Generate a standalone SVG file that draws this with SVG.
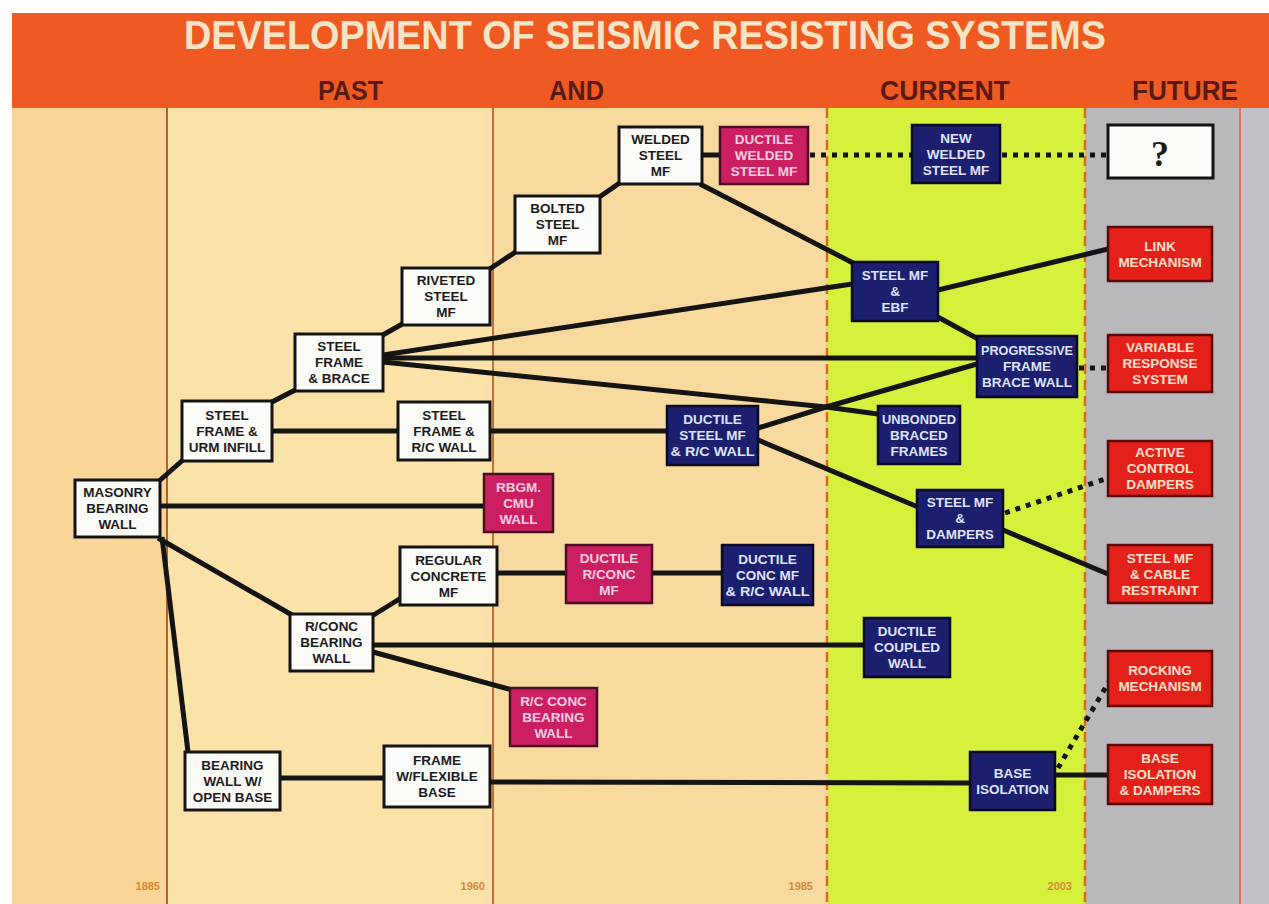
<svg xmlns="http://www.w3.org/2000/svg" width="1269" height="904" viewBox="0 0 1269 904">
<style>
.lbl{font-family:"Liberation Sans",Arial,sans-serif;font-weight:bold;font-size:13.5px;text-anchor:middle}
.w rect{fill:#fbfbf8;stroke:#141414;stroke-width:3}
.w text{fill:#1c1c1c}
.m rect{fill:#cc1f62;stroke:#4a0c22;stroke-width:2.5}
.m text{fill:#f8cfe0}
.n rect{fill:#1b1f6e;stroke:#0a0a26;stroke-width:2.5}
.n text{fill:#dfe3ff}
.r rect{fill:#e3201a;stroke:#5a0808;stroke-width:2.5}
.r text{fill:#ffe0cc}
.ln{stroke:#141414;stroke-width:5;fill:none}
.dot{stroke:#141414;stroke-width:5;fill:none;stroke-dasharray:5 6}
.hd{font-family:"Liberation Sans",Arial,sans-serif;font-weight:bold;fill:#5a1a14;font-size:27px}
.yr{font-family:"Liberation Sans",Arial,sans-serif;font-weight:bold;fill:#d48a3a;font-size:11px;text-anchor:end}
</style>
<rect width="1269" height="904" fill="#ffffff"/>
<g id="background">
<rect x="12" y="108" width="155" height="796" fill="#f9d697"/>
<rect x="167" y="108" width="326" height="796" fill="#fbe2a8"/>
<rect x="493" y="108" width="334" height="796" fill="#f9da9e"/>
<rect x="827" y="108" width="258" height="796" fill="#d6f03c"/>
<rect x="1085" y="108" width="155" height="796" fill="#b9b9bb"/>
<rect x="1240" y="108" width="29" height="796" fill="#c2c2c6"/>
<line x1="167" y1="108" x2="167" y2="904" stroke="#b0602a" stroke-width="2"/>
<line x1="493" y1="108" x2="493" y2="904" stroke="#c07038" stroke-width="2"/>
<line x1="827" y1="108" x2="827" y2="904" stroke="#d86a1a" stroke-width="2.5" stroke-dasharray="10 6"/>
<line x1="1085" y1="108" x2="1085" y2="904" stroke="#d86a1a" stroke-width="2.5" stroke-dasharray="10 6"/>
<line x1="1240" y1="108" x2="1240" y2="904" stroke="#e07060" stroke-width="2"/>
<rect x="12" y="13" width="1257" height="95" fill="#ef5a22"/>
<text x="645" y="49" font-family="Liberation Sans, Arial, sans-serif" font-weight="bold" font-size="40" fill="#f6e4c6" text-anchor="middle" textLength="922" lengthAdjust="spacingAndGlyphs">DEVELOPMENT OF SEISMIC RESISTING SYSTEMS</text>
<text class="hd" x="318" y="100" textLength="65" lengthAdjust="spacingAndGlyphs">PAST</text>
<text class="hd" x="549" y="100" textLength="55" lengthAdjust="spacingAndGlyphs">AND</text>
<text class="hd" x="880" y="100" textLength="130" lengthAdjust="spacingAndGlyphs">CURRENT</text>
<text class="hd" x="1132" y="100" textLength="106" lengthAdjust="spacingAndGlyphs">FUTURE</text>
<text class="yr" x="160" y="890">1885</text>
<text class="yr" x="485" y="890">1960</text>
<text class="yr" x="813" y="890">1985</text>
<text class="yr" x="1072" y="890">2003</text>
</g>
<g id="connectors">
<line class="ln" x1="158" y1="482" x2="184" y2="459"/>
<line class="ln" x1="160" y1="506" x2="484" y2="506"/>
<line class="ln" x1="158" y1="538" x2="292" y2="615"/>
<line class="ln" x1="162" y1="537" x2="188" y2="752"/>
<line class="ln" x1="272" y1="431" x2="398" y2="431"/>
<line class="ln" x1="270" y1="403" x2="297" y2="389"/>
<line class="ln" x1="381" y1="336" x2="404" y2="323"/>
<line class="ln" x1="488" y1="270" x2="517" y2="251"/>
<line class="ln" x1="598" y1="198" x2="621" y2="182"/>
<line class="ln" x1="702" y1="155" x2="720" y2="155"/>
<line class="dot" x1="810" y1="155" x2="912" y2="155"/>
<line class="dot" x1="1002" y1="155" x2="1108" y2="155"/>
<line class="ln" x1="700" y1="184" x2="855" y2="264"/>
<line class="ln" x1="383" y1="355" x2="852" y2="284"/>
<line class="ln" x1="383" y1="358" x2="977" y2="358"/>
<polyline class="ln" points="383,362 826,407 878,414"/>
<line class="ln" x1="938" y1="290" x2="1108" y2="249"/>
<line class="ln" x1="936" y1="316" x2="980" y2="340"/>
<polyline class="ln" points="758,428 826,407 977,364"/>
<line class="ln" x1="490" y1="431" x2="667" y2="431"/>
<line class="ln" x1="758" y1="440" x2="918" y2="507"/>
<line class="ln" x1="1003" y1="530" x2="1108" y2="574"/>
<line class="dot" x1="1005" y1="513" x2="1108" y2="478"/>
<line class="dot" x1="1079" y1="368" x2="1108" y2="368"/>
<line class="ln" x1="497" y1="573" x2="566" y2="573"/>
<line class="ln" x1="652" y1="573" x2="722" y2="573"/>
<line class="ln" x1="401" y1="598" x2="372" y2="616"/>
<line class="ln" x1="373" y1="645" x2="864" y2="645"/>
<line class="ln" x1="373" y1="652" x2="512" y2="690"/>
<line class="ln" x1="280" y1="778" x2="384" y2="778"/>
<line class="ln" x1="490" y1="782" x2="970" y2="783"/>
<line class="ln" x1="1055" y1="775" x2="1108" y2="775"/>
<line class="dot" x1="1058" y1="768" x2="1110" y2="680"/>
</g>
<g id="n1" class="w lbl"><rect x="75" y="480" width="85" height="57"/><text x="117.5" y="497">MASONRY</text><text x="117.5" y="513">BEARING</text><text x="117.5" y="529">WALL</text></g>
<g id="n2" class="w lbl"><rect x="182" y="401" width="90" height="60"/><text x="227" y="419.5">STEEL</text><text x="227" y="435.5">FRAME &amp;</text><text x="227" y="451.5">URM INFILL</text></g>
<g id="n3" class="w lbl"><rect x="295" y="334" width="88" height="57"/><text x="339" y="351">STEEL</text><text x="339" y="367">FRAME</text><text x="339" y="383">&amp; BRACE</text></g>
<g id="n4" class="w lbl"><rect x="402" y="268" width="88" height="57"/><text x="446" y="285">RIVETED</text><text x="446" y="301">STEEL</text><text x="446" y="317">MF</text></g>
<g id="n5" class="w lbl"><rect x="515" y="196" width="85" height="57"/><text x="557.5" y="213">BOLTED</text><text x="557.5" y="229">STEEL</text><text x="557.5" y="245">MF</text></g>
<g id="n6" class="w lbl"><rect x="619" y="127" width="83" height="57"/><text x="660.5" y="144">WELDED</text><text x="660.5" y="160">STEEL</text><text x="660.5" y="176">MF</text></g>
<g id="n7" class="m lbl"><rect x="720" y="127" width="88" height="57"/><text x="764" y="144">DUCTILE</text><text x="764" y="160">WELDED</text><text x="764" y="176">STEEL MF</text></g>
<g id="n8" class="n lbl"><rect x="912" y="125" width="88" height="58"/><text x="956" y="142.5">NEW</text><text x="956" y="158.5">WELDED</text><text x="956" y="174.5">STEEL MF</text></g>
<g id="n9" class="w"><rect x="1108" y="125" width="105" height="53"/><text x="1160" y="166" font-family="Liberation Serif, serif" font-weight="bold" font-size="36" fill="#c0202a" text-anchor="middle">?</text></g>
<g id="n10" class="r lbl"><rect x="1108" y="227" width="104" height="54"/><text x="1160" y="250.5">LINK</text><text x="1160" y="266.5">MECHANISM</text></g>
<g id="n11" class="n lbl"><rect x="852" y="262" width="86" height="59"/><text x="895" y="280">STEEL MF</text><text x="895" y="296">&amp;</text><text x="895" y="312">EBF</text></g>
<g id="n12" class="n lbl"><rect x="977" y="336" width="100" height="61"/><text x="1027" y="355" textLength="92" lengthAdjust="spacingAndGlyphs">PROGRESSIVE</text><text x="1027" y="371">FRAME</text><text x="1027" y="387" textLength="90" lengthAdjust="spacingAndGlyphs">BRACE WALL</text></g>
<g id="n13" class="r lbl"><rect x="1108" y="335" width="104" height="57"/><text x="1160" y="352">VARIABLE</text><text x="1160" y="368">RESPONSE</text><text x="1160" y="384">SYSTEM</text></g>
<g id="n14" class="w lbl"><rect x="398" y="402" width="92" height="58"/><text x="444" y="419.5">STEEL</text><text x="444" y="435.5">FRAME &amp;</text><text x="444" y="451.5">R/C WALL</text></g>
<g id="n15" class="n lbl"><rect x="667" y="406" width="91" height="59"/><text x="712.5" y="424">DUCTILE</text><text x="712.5" y="440">STEEL MF</text><text x="712.5" y="456" textLength="84" lengthAdjust="spacingAndGlyphs">&amp; R/C WALL</text></g>
<g id="n16" class="n lbl"><rect x="878" y="406" width="82" height="58"/><text x="919" y="423.5" textLength="74" lengthAdjust="spacingAndGlyphs">UNBONDED</text><text x="919" y="439.5">BRACED</text><text x="919" y="455.5">FRAMES</text></g>
<g id="n17" class="m lbl"><rect x="484" y="474" width="69" height="58"/><text x="518.5" y="491.5">RBGM.</text><text x="518.5" y="507.5">CMU</text><text x="518.5" y="523.5">WALL</text></g>
<g id="n18" class="r lbl"><rect x="1108" y="441" width="104" height="55"/><text x="1160" y="457">ACTIVE</text><text x="1160" y="473">CONTROL</text><text x="1160" y="489">DAMPERS</text></g>
<g id="n19" class="n lbl"><rect x="917" y="490" width="86" height="57"/><text x="960" y="507">STEEL MF</text><text x="960" y="523">&amp;</text><text x="960" y="539">DAMPERS</text></g>
<g id="n20" class="w lbl"><rect x="400" y="547" width="97" height="58"/><text x="448.5" y="564.5">REGULAR</text><text x="448.5" y="580.5">CONCRETE</text><text x="448.5" y="596.5">MF</text></g>
<g id="n21" class="m lbl"><rect x="566" y="545" width="86" height="58"/><text x="609" y="562.5">DUCTILE</text><text x="609" y="578.5">R/CONC</text><text x="609" y="594.5">MF</text></g>
<g id="n22" class="n lbl"><rect x="722" y="545" width="91" height="60"/><text x="767.5" y="563.5">DUCTILE</text><text x="767.5" y="579.5">CONC MF</text><text x="767.5" y="595.5" textLength="84" lengthAdjust="spacingAndGlyphs">&amp; R/C WALL</text></g>
<g id="n23" class="r lbl"><rect x="1108" y="545" width="104" height="58"/><text x="1160" y="562.5">STEEL MF</text><text x="1160" y="578.5">&amp; CABLE</text><text x="1160" y="594.5">RESTRAINT</text></g>
<g id="n24" class="w lbl"><rect x="290" y="614" width="83" height="57"/><text x="331.5" y="631">R/CONC</text><text x="331.5" y="647">BEARING</text><text x="331.5" y="663">WALL</text></g>
<g id="n25" class="n lbl"><rect x="864" y="618" width="86" height="59"/><text x="907" y="636">DUCTILE</text><text x="907" y="652">COUPLED</text><text x="907" y="668">WALL</text></g>
<g id="n26" class="m lbl"><rect x="510" y="688" width="87" height="58"/><text x="553.5" y="705.5">R/C CONC</text><text x="553.5" y="721.5">BEARING</text><text x="553.5" y="737.5">WALL</text></g>
<g id="n27" class="r lbl"><rect x="1108" y="651" width="104" height="55"/><text x="1160" y="675">ROCKING</text><text x="1160" y="691">MECHANISM</text></g>
<g id="n28" class="w lbl"><rect x="185" y="752" width="95" height="58"/><text x="232.5" y="769.5">BEARING</text><text x="232.5" y="785.5">WALL W/</text><text x="232.5" y="801.5">OPEN BASE</text></g>
<g id="n29" class="w lbl"><rect x="384" y="746" width="106" height="61"/><text x="437" y="765">FRAME</text><text x="437" y="781">W/FLEXIBLE</text><text x="437" y="797">BASE</text></g>
<g id="n30" class="n lbl"><rect x="970" y="752" width="85" height="58"/><text x="1012.5" y="777.5">BASE</text><text x="1012.5" y="793.5">ISOLATION</text></g>
<g id="n31" class="r lbl"><rect x="1108" y="745" width="104" height="59"/><text x="1160" y="763">BASE</text><text x="1160" y="779">ISOLATION</text><text x="1160" y="795">&amp; DAMPERS</text></g>
</svg>
